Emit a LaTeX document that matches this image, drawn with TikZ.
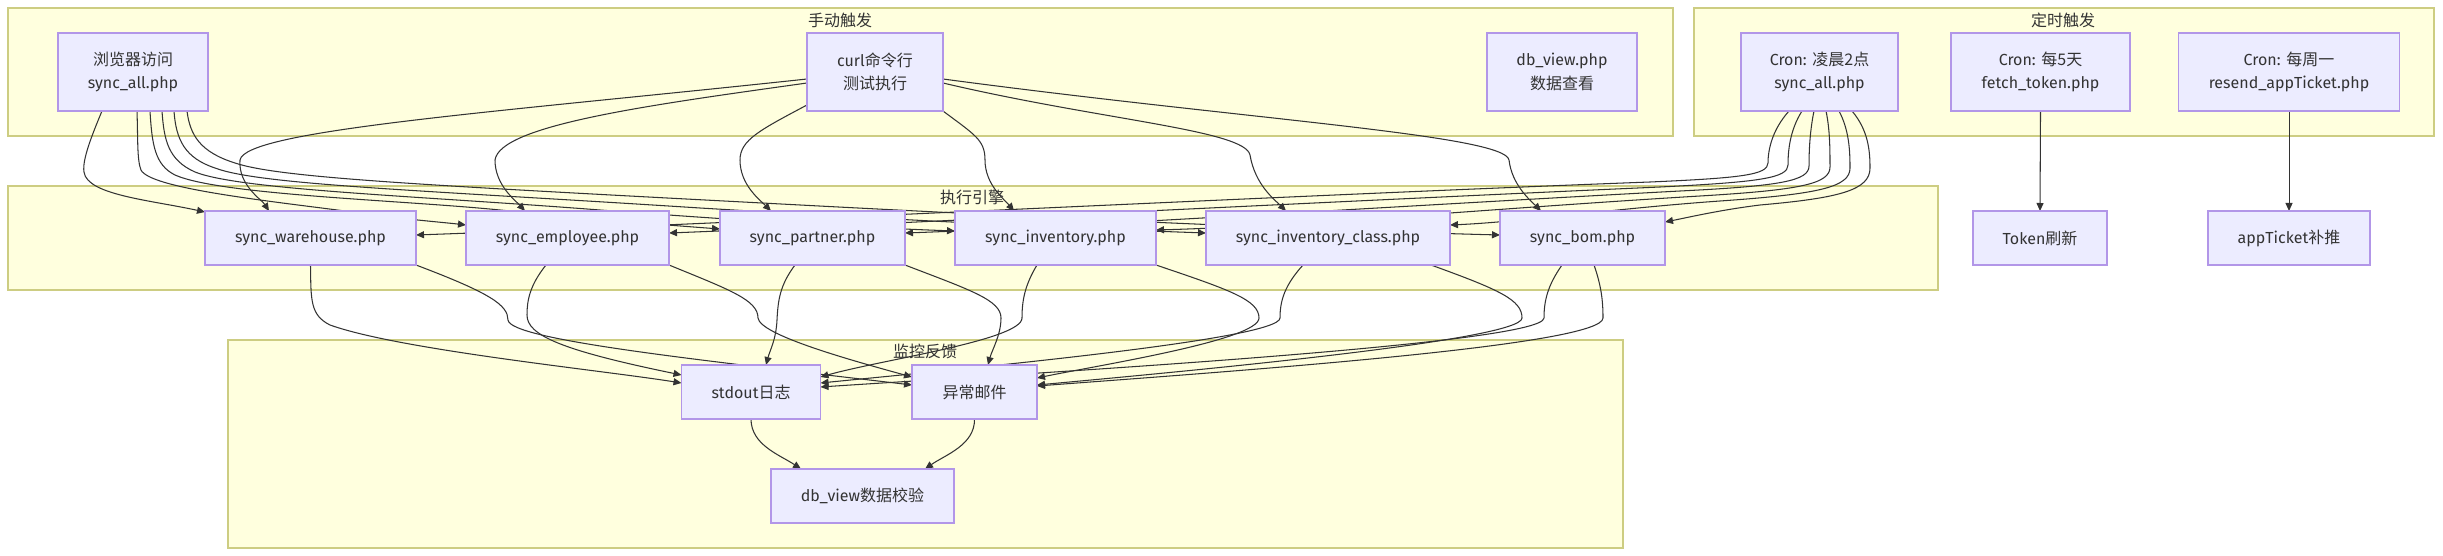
\documentclass[tikz,border=0pt]{standalone}
\usepackage{fontspec}
\setmainfont{Fira Sans}
\newfontfamily\cjk{Noto Sans CJK SC}
\usetikzlibrary{arrows.meta,calc}
\definecolor{nodefill}{HTML}{ECECFF}
\definecolor{nodeline}{RGB}{178,150,232}
\definecolor{clfill}{HTML}{FFFFDE}
\definecolor{clline}{RGB}{205,205,130}
\definecolor{edgecol}{HTML}{333333}
\definecolor{txt}{HTML}{333333}
\pgfdeclarelayer{bg}
\pgfdeclarelayer{edgelayer}
\pgfsetlayers{bg,edgelayer,main}
\begin{document}
\begin{tikzpicture}[x=1pt,y=-1pt,
  font=\fontsize{16pt}{23.5pt}\selectfont,
  nbox/.style={draw=nodeline,fill=nodefill,line width=1.4pt,inner sep=0pt,outer sep=0pt,align=center,text=txt},
  clbox/.style={draw=clline,fill=clfill,line width=2pt,inner sep=0pt,outer sep=0pt},
  ctitle/.style={text=txt,inner sep=0pt},
  conn/.style={draw=edgecol,line width=1.05pt,-{Triangle[length=8pt,width=7pt]}},
]
\useasboundingbox (0,0) rectangle (2443,556);
\begin{pgfonlayer}{bg}
\fill[white] (0,0) rectangle (2443,556);
\node[clbox,minimum width=1665pt,minimum height=128pt] (G1) at (840.5,72) {};
\node[clbox,minimum width=740pt,minimum height=128pt] (G2) at (2064,72) {};
\node[clbox,minimum width=1930pt,minimum height=104pt] (G3) at (973,238) {};
\node[clbox,minimum width=1395pt,minimum height=208pt] (G4) at (925.5,444) {};
\node[ctitle] (t1) at (840,20) {{\cjk 手动触发}};
\node[ctitle] (t2) at (2063,20) {{\cjk 定时触发}};
\node[ctitle] (t3) at (972,197) {{\cjk 执行引擎}};
\node[ctitle] (t4) at (925,351) {{\cjk 监控反馈}};
\end{pgfonlayer}

% nodes
\node[nbox,minimum width=150pt,minimum height=78pt] (A) at (133,72) {{\cjk 浏览器访问}\\sync\_all.php};
\node[nbox,minimum width=136pt,minimum height=78pt] (B) at (875,72) {curl{\cjk 命令行}\\{\cjk 测试执行}};
\node[nbox,minimum width=150pt,minimum height=78pt] (D) at (1562,72) {db\_view.php\\{\cjk 数据查看}};
\node[nbox,minimum width=157pt,minimum height=78pt] (C1) at (1819.5,72) {Cron: {\cjk 凌晨2点}\\sync\_all.php};
\node[nbox,minimum width=179pt,minimum height=78pt] (C2) at (2040.5,72) {Cron: {\cjk 每5天}\\fetch\_token.php};
\node[nbox,minimum width=221pt,minimum height=78pt] (C3) at (2289,72) {Cron: {\cjk 每周一}\\resend\_appTicket.php};
\node[nbox,minimum width=211pt,minimum height=54pt] (W) at (310.5,238) {sync\_warehouse.php};
\node[nbox,minimum width=203pt,minimum height=54pt] (E) at (567.5,238) {sync\_employee.php};
\node[nbox,minimum width=185pt,minimum height=54pt] (P) at (812.5,238) {sync\_partner.php};
\node[nbox,minimum width=201pt,minimum height=54pt] (I) at (1055.5,238) {sync\_inventory.php};
\node[nbox,minimum width=244pt,minimum height=54pt] (IC) at (1328,238) {sync\_inventory\_class.php};
\node[nbox,minimum width=165pt,minimum height=54pt] (BM) at (1582.5,238) {sync\_bom.php};
\node[nbox,minimum width=134pt,minimum height=54pt] (T) at (2040,238) {Token{\cjk 刷新}};
\node[nbox,minimum width=162pt,minimum height=54pt] (AT) at (2289,238) {appTicket{\cjk 补推}};
\node[nbox,minimum width=139pt,minimum height=54pt] (L) at (751,392) {stdout{\cjk 日志}};
\node[nbox,minimum width=125pt,minimum height=54pt] (M) at (974.5,392) {{\cjk 异常邮件}};
\node[nbox,minimum width=183pt,minimum height=54pt] (V) at (862.5,496) {db\_view{\cjk 数据校验}};

\begin{pgfonlayer}{edgelayer}
% A -> sync
\draw[conn] ($(A.south)+(-31,0)$) .. controls (92,135) and (82,160) .. (84,172) .. controls (87,195) and (150,200) .. ($(W.west)+(0,-26)$);
\draw[conn] ($(A.south)+(4,0)$) .. controls (138,140) and (137,160) .. (141,170) .. controls (150,188) and (260,200) .. (345,211) .. controls (400,219) and (440,222) .. ($(E.west)+(0,-13)$);
\draw[conn] ($(A.south)+(17,0)$) .. controls (152,145) and (155,165) .. (175,175) .. controls (220,195) and (400,200) .. (500,210) .. controls (600,220) and (680,226) .. ($(P.west)+(0,-9)$);
\draw[conn] ($(A.south)+(29,0)$) .. controls (164,140) and (168,160) .. (195,172) .. controls (240,190) and (420,196) .. (600,210) .. controls (800,225) and (900,229) .. ($(I.west)+(0,-7)$);
\draw[conn] ($(A.south)+(41,0)$) .. controls (176,140) and (185,158) .. (215,168) .. controls (260,185) and (420,190) .. (700,208) .. controls (1000,226) and (1150,231) .. ($(IC.west)+(0,-5)$);
\draw[conn] ($(A.south)+(54,0)$) .. controls (190,135) and (200,152) .. (235,163) .. controls (280,178) and (420,185) .. (800,205) .. controls (1200,226) and (1420,233) .. ($(BM.west)+(0,-3)$);
% B -> sync
\draw[conn] ($(B.west)+(0,7)$) .. controls (500,112) and (245,130) .. (240,160) .. controls (238,185) and (262,200) .. ($(W.north)+(-41.5,0)$);
\draw[conn] ($(B.west)+(0,11)$) .. controls (650,105) and (500,125) .. (495,160) .. controls (495,185) and (515,200) .. ($(E.north)+(-42.5,0)$);
\draw[conn] ($(B.south west)+(0,-6)$) .. controls (760,130) and (740,140) .. (740,160) .. controls (740,185) and (760,200) .. ($(P.north)+(-41.5,0)$);
\draw[conn] (B.south east) .. controls (975,135) and (985,140) .. (985,160) .. controls (985,185) and (1005,200) .. ($(I.north)+(-41.5,0)$);
\draw[conn] ($(B.east)+(0,11)$) .. controls (1100,120) and (1245,130) .. (1250,155) .. controls (1255,185) and (1275,200) .. ($(IC.north)+(-42,0)$);
\draw[conn] ($(B.east)+(0,7)$) .. controls (1250,120) and (1505,135) .. (1509,160) .. controls (1512,185) and (1530,200) .. ($(BM.north)+(-41.5,0)$);
% C1 -> sync
\draw[conn] ($(C1.south)+(-30.5,0)$) .. controls (1772,130) and (1768,150) .. (1768,163) .. controls (1768,175) and (1740,178) .. (1650,182) .. controls (1300,195) and (700,225) .. ($(W.east)+(0,-3)$);
\draw[conn] ($(C1.south)+(-17.5,0)$) .. controls (1790,130) and (1788,150) .. (1788,165) .. controls (1788,178) and (1760,182) .. (1660,187) .. controls (1300,203) and (850,226) .. ($(E.east)+(0,-5)$);
\draw[conn] ($(C1.south)+(-5.5,0)$) .. controls (1810,130) and (1809,150) .. (1809,166) .. controls (1809,181) and (1780,186) .. (1680,191) .. controls (1400,206) and (1050,228) .. ($(P.east)+(0,-5)$);
\draw[conn] ($(C1.south)+(6.5,0)$) .. controls (1830,130) and (1830,150) .. (1830,167) .. controls (1830,184) and (1800,190) .. (1700,196) .. controls (1500,208) and (1300,226) .. ($(I.east)+(0,-8)$);
\draw[conn] ($(C1.south)+(19.5,0)$) .. controls (1849,130) and (1850,150) .. (1850,168) .. controls (1850,187) and (1820,194) .. (1720,201) .. controls (1620,208) and (1520,222) .. ($(IC.east)+(0,-13)$);
\draw[conn] ($(C1.south)+(32.5,0)$) .. controls (1868,130) and (1870,150) .. (1870,168) .. controls (1870,190) and (1840,198) .. (1760,205) .. controls (1720,210) and (1690,217) .. ($(BM.east)+(0,-16)$);
% cron others
\draw[conn] (C2.south) -- (T.north);
\draw[conn] (C3.south) -- (AT.north);
% sync -> L / M
\draw[conn] (W.south) .. controls (311,300) and (310,315) .. (330,325) .. controls (400,350) and (600,370) .. ($(L.west)+(0,-9)$);
\draw[conn] (W.south east) .. controls (490,293) and (508,305) .. (508,320) .. controls (510,340) and (700,360) .. ($(M.west)+(0,-7)$);
\draw[conn] ($(E.south)+(-21.5,0)$) .. controls (530,285) and (527,300) .. (527,315) .. controls (527,335) and (560,350) .. ($(L.west)+(0,-17)$);
\draw[conn] (E.south east) .. controls (730,290) and (758,300) .. (758,318) .. controls (760,335) and (850,360) .. ($(M.west)+(0,-15)$);
\draw[conn] ($(P.south)+(-17.5,0)$) .. controls (780,285) and (778,300) .. (777,320) .. controls (776,340) and (770,350) .. ($(L.north)+(15,0)$);
\draw[conn] (P.south east) .. controls (970,290) and (1001,300) .. (1001,318) .. controls (1001,335) and (992,350) .. ($(M.north)+(13.5,0)$);
\draw[conn] ($(I.south)+(-18.5,0)$) .. controls (1025,285) and (1022,300) .. (1022,318) .. controls (1022,340) and (880,360) .. ($(L.east)+(0,-15)$);
\draw[conn] (I.south east) .. controls (1230,290) and (1259,300) .. (1259,318) .. controls (1259,340) and (1100,365) .. ($(M.east)+(0,-14)$);
\draw[conn] ($(IC.south)+(-25,0)$) .. controls (1285,285) and (1280,300) .. (1280,318) .. controls (1280,340) and (950,370) .. ($(L.east)+(0,-9)$);
\draw[conn] ($(IC.south)+(103,0)$) .. controls (1500,290) and (1522,300) .. (1522,318) .. controls (1522,340) and (1200,370) .. ($(M.east)+(0,-7)$);
\draw[conn] ($(BM.south)+(-20.5,0)$) .. controls (1548,285) and (1544,300) .. (1544,318) .. controls (1544,345) and (1000,375) .. ($(L.east)+(0,-5)$);
\draw[conn] ($(BM.south)+(11.5,0)$) .. controls (1601,285) and (1603,300) .. (1603,318) .. controls (1603,345) and (1250,370) .. ($(M.east)+(0,-6)$);
% L/M -> V
\draw[conn] (L.south) .. controls (751,445) and (780,455) .. ($(V.north)+(-61.5,0)$);
\draw[conn] (M.south) .. controls (975,445) and (945,455) .. ($(V.north)+(62.5,0)$);
\end{pgfonlayer}
\end{tikzpicture}
\end{document}
